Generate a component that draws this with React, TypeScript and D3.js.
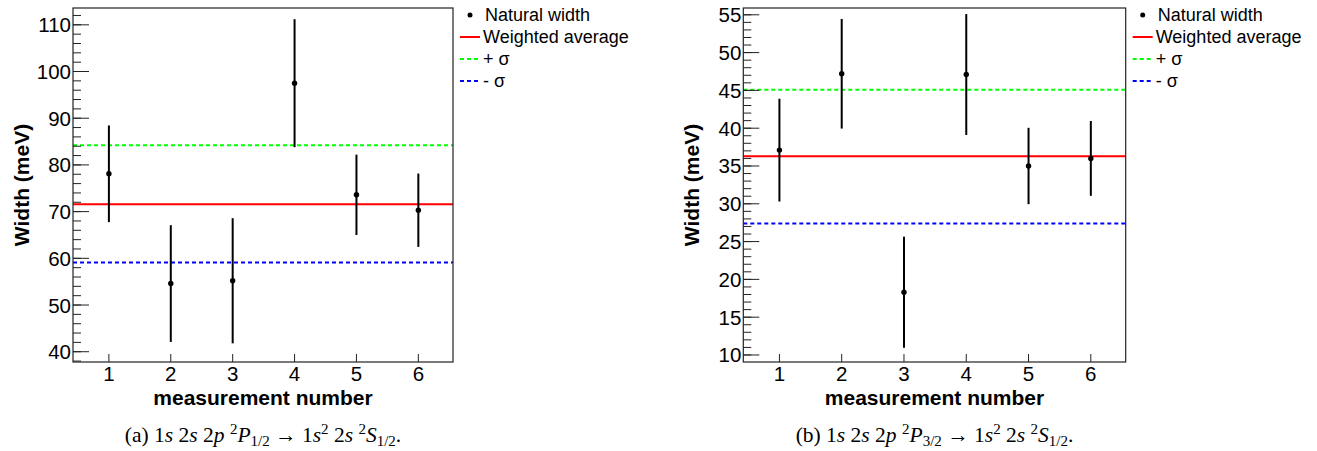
import React from 'react';
import * as d3 from 'd3';

// ---------- data ----------
const measurements = [1, 2, 3, 4, 5, 6];
const xTicks = [1, 2, 3, 4, 5, 6];

// Panel (a): 1s 2s 2p 2P1/2 -> 1s2 2s 2S1/2
const widthsA = [78.1, 54.6, 55.2, 97.5, 73.6, 70.3];
const errorsA = [10.35, 12.5, 13.4, 13.7, 8.6, 7.85];
const averageA = 71.6;
const plusSigmaA = 84.2;
const minusSigmaA = 59.1;
const yTicksA = [40, 50, 60, 70, 80, 90, 100, 110];
const yDomainA = [37.8, 113.6];

// Panel (b): 1s 2s 2p 2P3/2 -> 1s2 2s 2S1/2
const widthsB = [37.1, 47.2, 18.3, 47.1, 35.0, 36.0];
const errorsB = [6.8, 7.25, 7.35, 8.0, 5.05, 4.95];
const averageB = 36.3;
const plusSigmaB = 45.1;
const minusSigmaB = 27.4;
const yTicksB = [10, 15, 20, 25, 30, 35, 40, 45, 50, 55];
const yDomainB = [9.07, 55.9];

const xDomain = [0.42, 6.56];
const legendLabels = ['Natural width', 'Weighted average', '+ σ', '- σ'];
const xTitle = 'measurement number';
const yTitle = 'Width (meV)';

const SANS = "'Liberation Sans', Arial, Helvetica, sans-serif";
const SERIF = "'Liberation Serif', 'Times New Roman', serif";

type PanelProps = {
  left: number; right: number; top: number; bottom: number;
  yDomain: number[]; yTicks: number[]; minorStep: number;
  values: number[]; errors: number[];
  avg: number; plus: number; minus: number;
  tag: string; jLabel: string;
};

function Caption({ cx, y, tag, jLabel }: { cx: number; y: number; tag: string; jLabel: string }) {
  const sup = { fontSize: 15 };
  const it = { fontStyle: 'italic' as const };
  return (
    <text x={cx} y={y} textAnchor="middle" fontFamily={SERIF} fontSize={21.5} fill="#000" style={{ whiteSpace: 'pre' }}>
      <tspan>{`(${tag}) 1`}</tspan>
      <tspan style={it}>s</tspan>
      <tspan>{' 2'}</tspan>
      <tspan style={it}>s</tspan>
      <tspan>{' 2'}</tspan>
      <tspan style={it}>p</tspan>
      <tspan>{' '}</tspan>
      <tspan style={sup} dy={-8}>2</tspan>
      <tspan style={it} dy={8}>P</tspan>
      <tspan style={sup} dy={4}>{jLabel}</tspan>
      <tspan dy={-4}>{' → 1'}</tspan>
      <tspan style={it}>s</tspan>
      <tspan style={sup} dy={-8}>2</tspan>
      <tspan dy={8}>{' 2'}</tspan>
      <tspan style={it}>s</tspan>
      <tspan>{' '}</tspan>
      <tspan style={sup} dy={-8}>2</tspan>
      <tspan style={it} dy={8}>S</tspan>
      <tspan style={sup} dy={4}>1/2</tspan>
      <tspan dy={-4}>.</tspan>
    </text>
  );
}

function Panel(p: PanelProps) {
  const x = d3.scaleLinear().domain(xDomain).range([p.left, p.right]);
  const y = d3.scaleLinear().domain(p.yDomain).range([p.bottom, p.top]);
  const minor: number[] = [];
  const start = Math.ceil(p.yDomain[0] / p.minorStep) * p.minorStep;
  for (let v = start; v <= p.yDomain[1] + 1e-9; v += p.minorStep) minor.push(+v.toFixed(6));
  const cx = (p.left + p.right) / 2;
  const cy = (p.top + p.bottom) / 2;
  const lx0 = p.right + 7;
  const lx1 = p.right + 27;
  const tx = p.right + 30;
  const rowY = [15, 37, 59, 81];
  return (
    <g>
      {/* reference lines */}
      <line x1={p.left} x2={p.right} y1={y(p.plus)} y2={y(p.plus)} stroke="#00ff00" strokeWidth={2} strokeDasharray="4,3" />
      <line x1={p.left} x2={p.right} y1={y(p.minus)} y2={y(p.minus)} stroke="#0000ff" strokeWidth={2} strokeDasharray="4,3" />
      <line x1={p.left} x2={p.right} y1={y(p.avg)} y2={y(p.avg)} stroke="#ff0000" strokeWidth={2} />
      {/* error bars and points */}
      {measurements.map((m, i) => (
        <g key={m}>
          <line x1={x(m)} x2={x(m)} y1={y(p.values[i] + p.errors[i])} y2={y(p.values[i] - p.errors[i])} stroke="#000" strokeWidth={2} />
          <circle cx={x(m)} cy={y(p.values[i])} r={2.7} fill="#000" />
        </g>
      ))}
      {/* frame */}
      <rect x={p.left} y={p.top} width={p.right - p.left} height={p.bottom - p.top} fill="none" stroke="#222" strokeWidth={1.2} />
      {/* y ticks */}
      {minor.map((v) => (
        <line key={'m' + v} x1={p.left} x2={p.left + 8} y1={y(v)} y2={y(v)} stroke="#222" strokeWidth={1} />
      ))}
      {p.yTicks.map((v) => (
        <g key={'y' + v}>
          <line x1={p.left} x2={p.left + 16} y1={y(v)} y2={y(v)} stroke="#222" strokeWidth={1} />
          <text x={p.left - 2} y={y(v)} textAnchor="end" dominantBaseline="central" fontFamily={SANS} fontSize={20.5} fill="#000">{v}</text>
        </g>
      ))}
      {/* x ticks */}
      {xTicks.map((v) => (
        <g key={'x' + v}>
          <line x1={x(v)} x2={x(v)} y1={p.bottom} y2={p.bottom - 8} stroke="#222" strokeWidth={1} />
          <text x={x(v)} y={p.bottom + 19} textAnchor="middle" fontFamily={SANS} fontSize={20.5} fill="#000">{v}</text>
        </g>
      ))}
      {/* titles */}
      <text x={cx} y={p.bottom + 43} textAnchor="middle" fontFamily={SANS} fontWeight="bold" fontSize={21} fill="#000">{xTitle}</text>
      <text transform={`translate(${p.left - 44},${cy}) rotate(-90)`} textAnchor="middle" fontFamily={SANS} fontWeight="bold" fontSize={21} fill="#000">{yTitle}</text>
      {/* legend */}
      <circle cx={(lx0 + lx1) / 2} cy={rowY[0]} r={2.5} fill="#000" />
      <line x1={lx0} x2={lx1} y1={rowY[1]} y2={rowY[1]} stroke="#ff0000" strokeWidth={2} />
      <line x1={lx0} x2={lx1} y1={rowY[2]} y2={rowY[2]} stroke="#00ff00" strokeWidth={2} strokeDasharray="4,3" />
      <line x1={lx0} x2={lx1} y1={rowY[3]} y2={rowY[3]} stroke="#0000ff" strokeWidth={2} strokeDasharray="4,3" />
      {legendLabels.map((l, i) => (
        <text key={l} x={i === 0 ? tx + 2 : tx} y={rowY[i]} dominantBaseline="central" fontFamily={SANS} fontSize={18} fill="#000">{l}</text>
      ))}
      <Caption cx={cx} y={442} tag={p.tag} jLabel={p.jLabel} />
    </g>
  );
}

export default function App() {
  return (
    <svg width={1317} height={451} style={{ position: 'absolute', left: 0, top: 0, background: '#fff' }}>
      <rect x={0} y={0} width={1317} height={451} fill="#fff" />
      <Panel left={73} right={453} top={8} bottom={362} yDomain={yDomainA} yTicks={yTicksA} minorStep={2}
        values={widthsA} errors={errorsA} avg={averageA} plus={plusSigmaA} minus={minusSigmaA} tag="a" jLabel="1/2" />
      <Panel left={743.3} right={1125.7} top={8} bottom={362} yDomain={yDomainB} yTicks={yTicksB} minorStep={1}
        values={widthsB} errors={errorsB} avg={averageB} plus={plusSigmaB} minus={minusSigmaB} tag="b" jLabel="3/2" />
    </svg>
  );
}
